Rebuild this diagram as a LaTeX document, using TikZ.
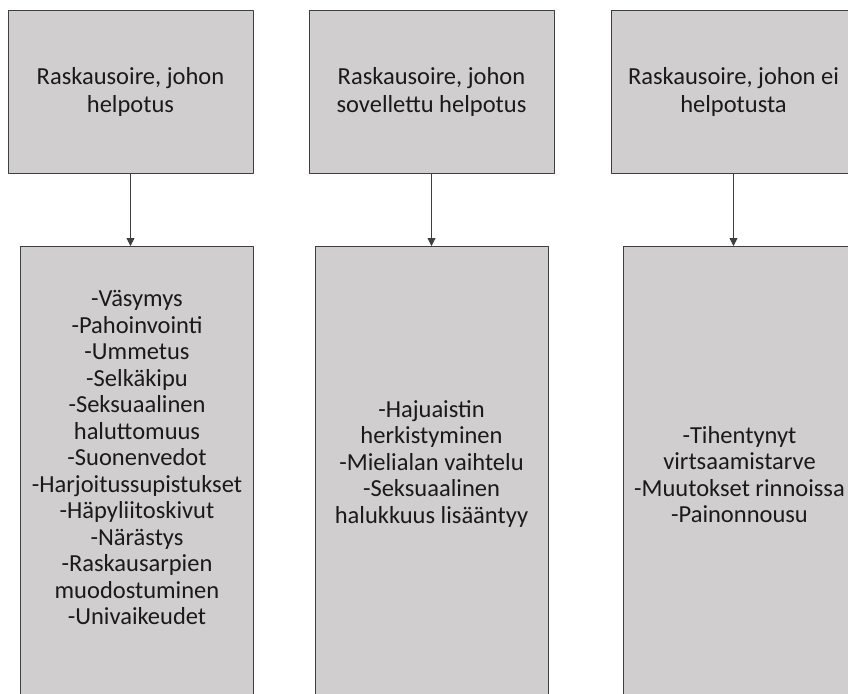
\documentclass[tikz,border=0pt]{standalone}
\usepackage{fontspec}
\usetikzlibrary{arrows.meta}
\setmainfont{Carlito}
\definecolor{boxgray}{HTML}{D0CECE}
\definecolor{edgegray}{HTML}{3F3F3F}
\definecolor{textdark}{HTML}{1A1A1A}
\tikzset{
  topbox/.style={draw=edgegray, fill=boxgray, line width=1pt, minimum width=245pt, minimum height=162pt, align=center, inner sep=0pt, text=textdark, font=\fontsize{24.5}{28}\selectfont},
  listbox/.style={draw=edgegray, fill=boxgray, line width=1pt, minimum width=233pt, minimum height=448pt, inner sep=0pt, anchor=north},
  listtext/.style={align=center, inner sep=0pt, text=textdark, font=\fontsize{24.5}{26.5}\selectfont}
}
\begin{document}
\begin{tikzpicture}[x=1pt, y=-1pt, line join=round, >={Triangle[width=8pt,length=8pt]}]

			\useasboundingbox (0,0) rectangle (848,693);
			\clip (0,0) rectangle (848,693);
			\fill[white] (0,0) rectangle (848,693);

			\node[topbox] (T1) at (130.5,92) {Raskausoire, johon\\helpotus};
			\node[topbox] (T2) at (431.5,92) {Raskausoire, johon\\sovellettu helpotus};
			\node[topbox] (T3) at (733.5,92) {Raskausoire, johon ei\\helpotusta};

			\node[listbox] (B1) at (137,246) {};
			\node[listbox] (B2) at (431.5,246) {};
			\node[listbox] (B3) at (739.5,246) {};

			\node[listtext] (L1) at ([yshift=13pt]B1.center) {-Väsymys\\-Pahoinvointi\\-Ummetus\\-Selkäkipu\\-Seksuaalinen\\haluttomuus\\-Suonenvedot\\-Harjoitussupistukset\\-Häpyliitoskivut\\-Närästys\\-Raskausarpien\\muodostuminen\\-Univaikeudet};
			\node[listtext] (L2) at ([yshift=7pt]B2.center) {-Hajuaistin\\herkistyminen\\-Mielialan vaihtelu\\-Seksuaalinen\\halukkuus lisääntyy};
			\node[listtext] (L3) at ([yshift=-4pt]B3.center) {-Tihentynyt\\virtsaamistarve\\-Muutokset rinnoissa\\-Painonnousu};

			\draw[->, edgegray, line width=0.8pt] (T1.south) -- (T1.south |- B1.north);
			\draw[->, edgegray, line width=0.8pt] (T2.south) -- (T2.south |- B2.north);
			\draw[->, edgegray, line width=0.8pt] (T3.south) -- (T3.south |- B3.north);
		\end{tikzpicture}
\end{document}
